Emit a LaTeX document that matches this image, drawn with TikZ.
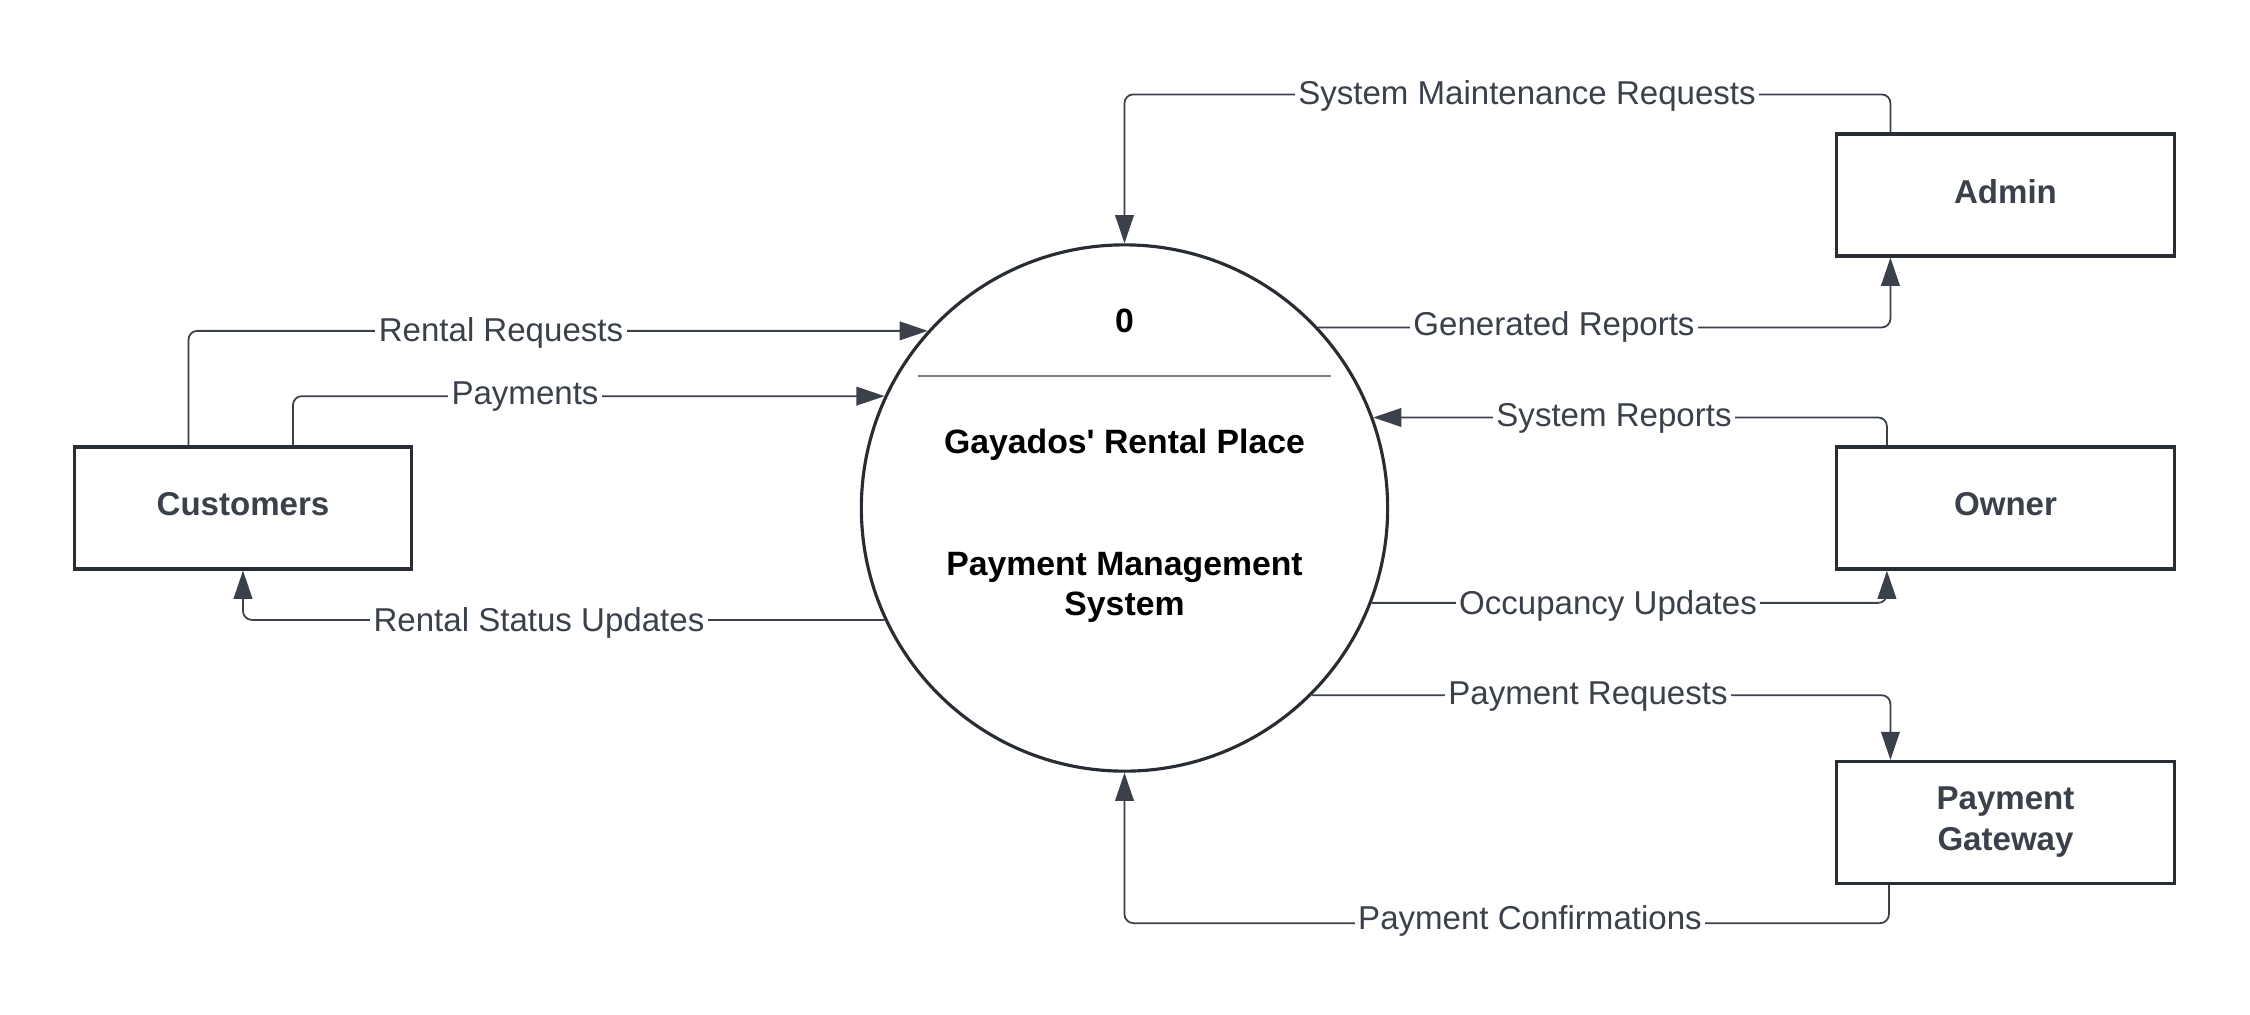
\documentclass[tikz,border=0pt]{standalone}
\usepackage{fontspec}
\setmainfont{Liberation Sans}
\usetikzlibrary{arrows.meta}
\definecolor{ink}{HTML}{3A414A}
\definecolor{edge}{HTML}{282C33}
\begin{document}
\begin{tikzpicture}[x=0.01cm,y=-0.01cm,
  ent/.style={draw=edge,line width=0.9pt,minimum width=3.37cm,minimum height=1.22cm,inner sep=0pt,text depth=2.2pt,align=center,text=ink,font=\fontsize{9.4}{11.4}\selectfont\bfseries},
  proc/.style={circle,draw=edge,line width=0.9pt,minimum size=5.26cm,inner sep=0pt},
  flow/.style={draw=ink,line width=0.5pt,rounded corners=2.5pt,-{Triangle[length=8pt,width=5.3pt]}},
  lbl/.style={fill=white,text=ink,inner xsep=1pt,inner ysep=0.5pt,font=\fontsize{9.4}{11.4}\selectfont},
  ptext/.style={font=\fontsize{9.6}{11.4}\selectfont\bfseries,align=center,inner sep=0pt}]
\useasboundingbox (0,0) rectangle (2250,1014);
\node[proc] (p) at (1124.5,508) {};
\node[ent] (cust) at (243,508) {Customers};
\node[ent] (admin) at (2005.5,195) {Admin};
\node[ent] (owner) at (2005.5,508) {Owner};
\node[ent] (pg) at (2005.5,822.5) {Payment\\Gateway};
% process text
\node[ptext,anchor=base] (pnum) at ([yshift=1.755cm]p.center) {0};
\draw[gray,line width=0.4pt] ([xshift=-2.065cm,yshift=1.32cm]p.center) -- ([xshift=2.065cm,yshift=1.32cm]p.center);
\node[ptext,anchor=base] (pname) at ([yshift=0.54cm]p.center) {Gayados\textquotesingle{} Rental Place};
\node[ptext] (psys) at ([yshift=-0.79cm]p.center) {Payment Management\\System};
% connectors
\draw[flow] ([xshift=-0.545cm]cust.north) |- (p.138.3);
\draw[flow] ([xshift=0.50cm]cust.north) |- (p.155);
\draw[flow] (p.205.9) -| (cust.south);
\draw[flow] ([xshift=-1.15cm]admin.north) -- ++(0,-38) -| (p.north);
\draw[flow] (p.43.5) -| ([xshift=-1.15cm]admin.south);
\draw[flow] ([xshift=-1.185cm]owner.north) |- (p.20);
\draw[flow] (p.-21.9) -| ([xshift=-1.185cm]owner.south);
\draw[flow] (p.-45.9) -| ([xshift=-1.15cm]pg.north);
\draw[flow] ([xshift=-1.165cm]pg.south) -- ++(0,38) -| (p.south);
% labels
\node[lbl] (l1) at (501,333) {Rental Requests};
\node[lbl] (l2) at (525,397) {Payments};
\node[lbl] (l3) at (539,623) {Rental Status Updates};
\node[lbl] (l4) at (1527,96) {System Maintenance Requests};
\node[lbl] (l5) at (1554,327) {Generated Reports};
\node[lbl] (l6) at (1614,418) {System Reports};
\node[lbl] (l7) at (1608,606) {Occupancy Updates};
\node[lbl] (l8) at (1588,697) {Payment Requests};
\node[lbl] (l9) at (1530,921) {Payment Confirmations};
\end{tikzpicture}
\end{document}
